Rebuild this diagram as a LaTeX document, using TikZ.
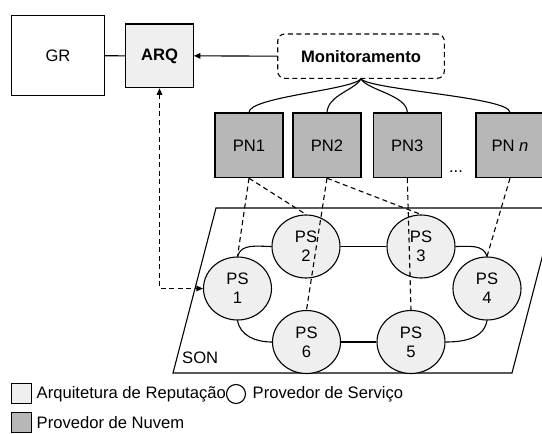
\documentclass[tikz,border=0pt]{standalone}
\usepackage{fontspec}
\setmainfont{Liberation Sans}
\usetikzlibrary{shapes.geometric,arrows.meta}
\definecolor{lightfill}{HTML}{EFEFEF}
\definecolor{pnfill}{HTML}{B7B7B7}
\begin{document}
\begin{tikzpicture}[x=1pt,y=-1pt,
  every node/.style={font=\fontsize{16.6}{19}\selectfont},
  line/.style={draw=black, line width=1.1pt},
  box/.style={line, rectangle, inner sep=0pt},
  arq/.style={box, fill=lightfill, minimum width=67.6pt, minimum height=63.7pt, font=\fontsize{16.6}{19}\selectfont\bfseries},
  pn/.style={box, fill=pnfill, minimum width=68pt, minimum height=64.7pt},
  ps/.style={line, ellipse, fill=lightfill, minimum width=68pt, minimum height=63pt, inner sep=0pt, align=center},
  dashline/.style={line, dash pattern=on 5pt off 3.5pt},
  tip/.style={-{Triangle[length=6.5pt,width=5.5pt]}},
]
\useasboundingbox (0,0) rectangle (542,434);

% SON plane
\draw[line] (216,208) -- (555,208) -- (512,373) -- (173,373) -- cycle;
\node[anchor=west, inner sep=0pt] (son) at (182,358) {SON};

% top row
\node[box, fill=white, minimum width=92.6pt, minimum height=80pt] (GR) at (58,55.7) {GR};
\node[arq] (ARQ) at (159.5,55.85) {ARQ};
\node[box, fill=white, dash pattern=on 5pt off 3.5pt, rounded corners=7pt, minimum width=166.6pt, minimum height=44.3pt, font=\fontsize{16.6}{19}\selectfont\bfseries] (Mon) at (361,56.15) {Monitoramento};

\draw[line] (GR.east) -- (ARQ.west);
\draw[line, tip] (Mon.west) -- (ARQ.east);

% cloud providers
\node[pn] (PN1) at (249,145.3) {PN1};
\node[pn] (PN2) at (327,145.3) {PN2};
\node[pn] (PN3) at (407.3,145.3) {PN3};
\node[pn] (PNn) at (510,145.3) {PN \textit{n}};
\node[anchor=base, inner sep=0pt] (dots) at (456,172) {...};

\draw[line] (Mon.south) .. controls (352,90) and (249,97) .. (PN1.north);
\draw[line] (Mon.south) .. controls (355,90) and (328,95) .. (PN2.north);
\draw[line] (Mon.south) .. controls (367,90) and (407,95) .. (PN3.north);
\draw[line] (Mon.south) .. controls (370,90) and (510,97) .. (PNn.north);

% service providers
\node[ps] (PS1) at (237.5,288.5) {PS\\1};
\node[ps] (PS2) at (306,246.5) {PS\\2};
\node[ps] (PS3) at (421,246.5) {PS\\3};
\node[ps] (PS4) at (487,288.5) {PS\\4};
\node[ps] (PS5) at (411,342) {PS\\5};
\node[ps] (PS6) at (306.5,342) {PS\\6};

\draw[line] (PS1.north) to[out=75,in=180] (PS2.west);
\draw[line] (PS2.east) -- (PS3.west);
\draw[line] (PS3.east) to[out=0,in=105] (PS4.north);
\draw[line] (PS4.south) to[out=-100,in=0] (PS5.east);
\draw[line] (PS5.west) -- (PS6.east);
\draw[line] (PS6.west) to[out=180,in=-80] (PS1.south);

% dashed links
\draw[dashline] (PN1.south) -- (PS1.north);
\draw[dashline] (PN1.south) -- (PS2.north);
\draw[dashline] (PN2.south) -- (PS6.north);
\draw[dashline] (PN2.south) -- (PS3.north);
\draw[dashline] (PN3.south) -- (PS5.north);
\draw[dashline] (PNn.south) -- (PS4.north);

\coordinate (corner) at (ARQ.south |- PS1.west);
\draw[dashline, {Triangle[length=6.5pt,width=5.5pt]}-{Triangle[length=6.5pt,width=5.5pt]}] (ARQ.south) -- (corner) -- (PS1.west);

% legend
\node[box, fill=lightfill, minimum width=20pt, minimum height=20pt] (leg1) at (21.7,393.7) {};
\node[anchor=west, inner sep=0pt] (leg1t) at (36.5,394) {Arquitetura de Reputação};
\node[line, circle, fill=white, minimum size=19pt, inner sep=0pt] (leg2) at (236,394) {};
\node[anchor=west, inner sep=0pt] (leg2t) at (252.5,394) {Provedor de Serviço};
\node[box, fill=pnfill, minimum width=20pt, minimum height=20pt] (leg3) at (21.7,422.5) {};
\node[anchor=west, inner sep=0pt] (leg3t) at (36.5,423) {Provedor de Nuvem};
\end{tikzpicture}
\end{document}
